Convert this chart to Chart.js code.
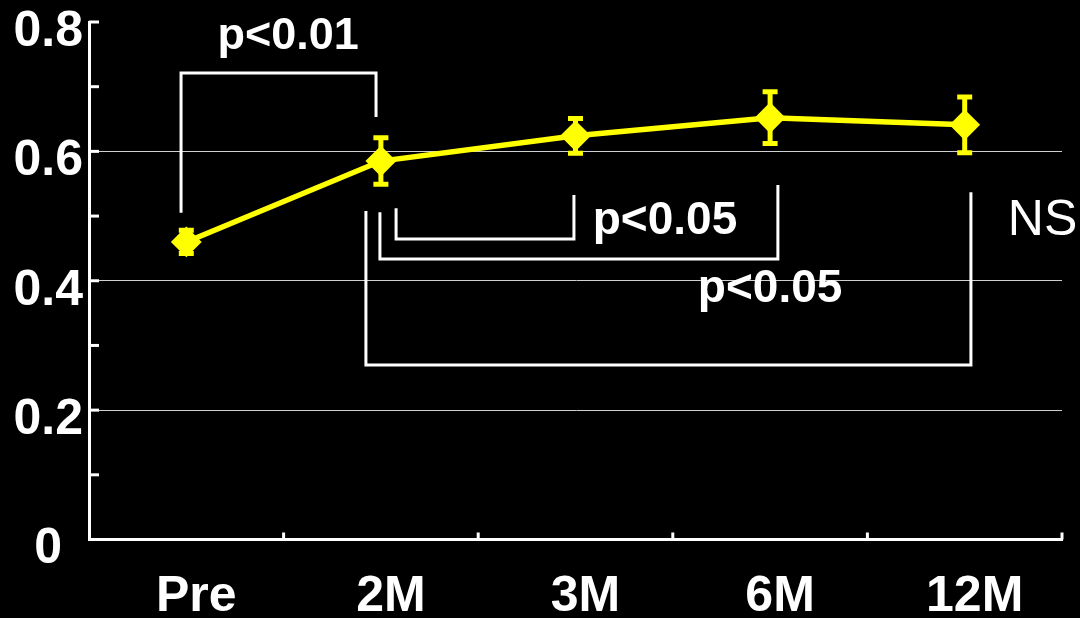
<!DOCTYPE html>
<html><head><meta charset="utf-8">
<script src="https://cdn.jsdelivr.net/npm/chart.js@4.4.0/dist/chart.umd.min.js"></script>
<style>html,body{margin:0;padding:0;background:#000;}#wrap{width:1080px;height:618px;}</style>
</head><body><div id="wrap"><canvas id="c" width="1080" height="618"></canvas></div>
<script>
const categories = ['Pre', '2M', '3M', '6M', '12M'];
const meanValues = [0.460, 0.585, 0.624, 0.652, 0.641];
const errorValues = [0.018, 0.036, 0.027, 0.040, 0.043];
const yTickLabels = ['0', '0.2', '0.4', '0.6', '0.8'];
const yMinorTicks = [0.1, 0.2, 0.3, 0.4, 0.5, 0.6, 0.7, 0.8];

// significance brackets, in data units (category index, value)
const bracket1X = [-0.027, -0.027, 0.975, 0.975];
const bracket1Y = [0.505, 0.721, 0.721, 0.653];
const bracket2X = [1.078, 1.078, 1.992, 1.992];
const bracket2Y = [0.512, 0.4645, 0.4645, 0.5325];
const bracket3X = [0.995, 0.995, 3.04, 3.04];
const bracket3Y = [0.506, 0.4336, 0.4336, 0.548];
const bracket4X = [0.923, 0.923, 4.032, 4.032];
const bracket4Y = [0.5078, 0.2697, 0.2697, 0.537];
const sigLabels = ['p<0.01', 'p<0.05', 'p<0.05', 'NS'];
const sigX = [0.523, 2.46, 3.0, 4.40];
const sigY = [0.758, 0.4722, 0.367, 0.4707];
const sigFonts = ['bold 45px "Liberation Sans"', 'bold 46px "Liberation Sans"', 'bold 46px "Liberation Sans"', '50px "Liberation Sans"'];

const FONT = '"Liberation Sans", Arial, sans-serif';
const YELLOW = '#ffff00';

const overlay = {
  id: 'overlay',
  beforeDraw(chart) {
    const ctx = chart.ctx;
    ctx.save();
    ctx.fillStyle = '#000';
    ctx.fillRect(0, 0, chart.width, chart.height);
    ctx.restore();
  },
  afterDatasetsDraw(chart) {
    const ctx = chart.ctx;
    const x = chart.scales.x, y = chart.scales.y;
    ctx.save();
    ctx.strokeStyle = YELLOW;
    ctx.lineCap = 'butt';
    meanValues.forEach((v, i) => {
      const px = x.getPixelForValue(i);
      const top = y.getPixelForValue(v + errorValues[i]);
      const bot = y.getPixelForValue(v - errorValues[i]);
      ctx.lineWidth = 5;
      ctx.beginPath(); ctx.moveTo(px, top); ctx.lineTo(px, bot); ctx.stroke();
      ctx.beginPath();
      ctx.moveTo(px - 7.5, top); ctx.lineTo(px + 7.5, top);
      ctx.moveTo(px - 7.5, bot); ctx.lineTo(px + 7.5, bot);
      ctx.stroke();
    });
    ctx.restore();
  },
  afterDraw(chart) {
    const ctx = chart.ctx;
    const x = chart.scales.x, y = chart.scales.y;
    const area = chart.chartArea;
    ctx.save();
    ctx.strokeStyle = '#ffffff';
    ctx.lineWidth = 3;
    // inward y ticks
    yMinorTicks.forEach(v => {
      const py = y.getPixelForValue(v);
      ctx.beginPath(); ctx.moveTo(area.left, py); ctx.lineTo(area.left + 10, py); ctx.stroke();
    });
    // inward x ticks at category boundaries
    categories.forEach((c, i) => {
      const px = x.getPixelForValue(i + 0.5);
      ctx.beginPath(); ctx.moveTo(px, area.bottom); ctx.lineTo(px, area.bottom - 7); ctx.stroke();
    });
    // brackets
    const brackets = [[bracket1X, bracket1Y], [bracket2X, bracket2Y], [bracket3X, bracket3Y], [bracket4X, bracket4Y]];
    ctx.lineJoin = 'miter';
    brackets.forEach(([bx, by]) => {
      ctx.beginPath();
      bx.forEach((xv, k) => {
        const px = x.getPixelForValue(xv), py = y.getPixelForValue(by[k]);
        if (k === 0) ctx.moveTo(px, py); else ctx.lineTo(px, py);
      });
      ctx.stroke();
    });
    // significance text
    ctx.fillStyle = '#ffffff';
    ctx.textAlign = 'center';
    ctx.textBaseline = 'alphabetic';
    sigLabels.forEach((t, i) => {
      ctx.font = sigFonts[i];
      ctx.fillText(t, x.getPixelForValue(sigX[i]), y.getPixelForValue(sigY[i]));
    });
    ctx.restore();
  }
};

new Chart(document.getElementById('c'), {
  type: 'line',
  data: {
    labels: categories,
    datasets: [{
      data: meanValues,
      borderColor: YELLOW,
      backgroundColor: YELLOW,
      borderWidth: 5.5,
      pointStyle: 'rectRot',
      pointRadius: 14,
      pointBackgroundColor: YELLOW,
      pointBorderColor: YELLOW,
      pointBorderWidth: 2,
      tension: 0,
      clip: false
    }]
  },
  options: {
    responsive: false,
    animation: false,
    devicePixelRatio: 1,
    layout: { padding: { top: 22, right: 18, left: 0, bottom: 0 } },
    plugins: { legend: { display: false }, tooltip: { enabled: false } },
    scales: {
      x: {
        type: 'category',
        offset: true,
        grid: { display: true, drawTicks: false, color: 'rgba(0,0,0,0)' },
        border: { display: true, color: '#ffffff', width: 3 },
        ticks: {
          color: '#ffffff', padding: 28, labelOffset: 10, maxRotation: 0, autoSkip: false,
          font: { family: FONT, size: 50, weight: 'bold' }
        },
        afterFit(s) { s.height = 78.5; s.paddingLeft = 0; s.paddingRight = 0; }
      },
      y: {
        min: 0, max: 0.8,
        grid: {
          drawTicks: false, lineWidth: 1,
          color: (c) => (c.tick && c.tick.value > 0.01 && c.tick.value < 0.79) ? '#d0d0d0' : 'rgba(0,0,0,0)'
        },
        border: { display: true, color: '#ffffff', width: 3 },
        ticks: {
          stepSize: 0.2, color: '#ffffff', padding: 6, crossAlign: 'center', labelOffset: 10,
          font: { family: FONT, size: 50, weight: 'bold' },
          callback: (v, i) => yTickLabels[i]
        },
        afterFit(s) { s.width = 89; s.paddingTop = 0; s.paddingBottom = 0; }
      }
    }
  },
  plugins: [overlay]
});
</script>
</body></html>
